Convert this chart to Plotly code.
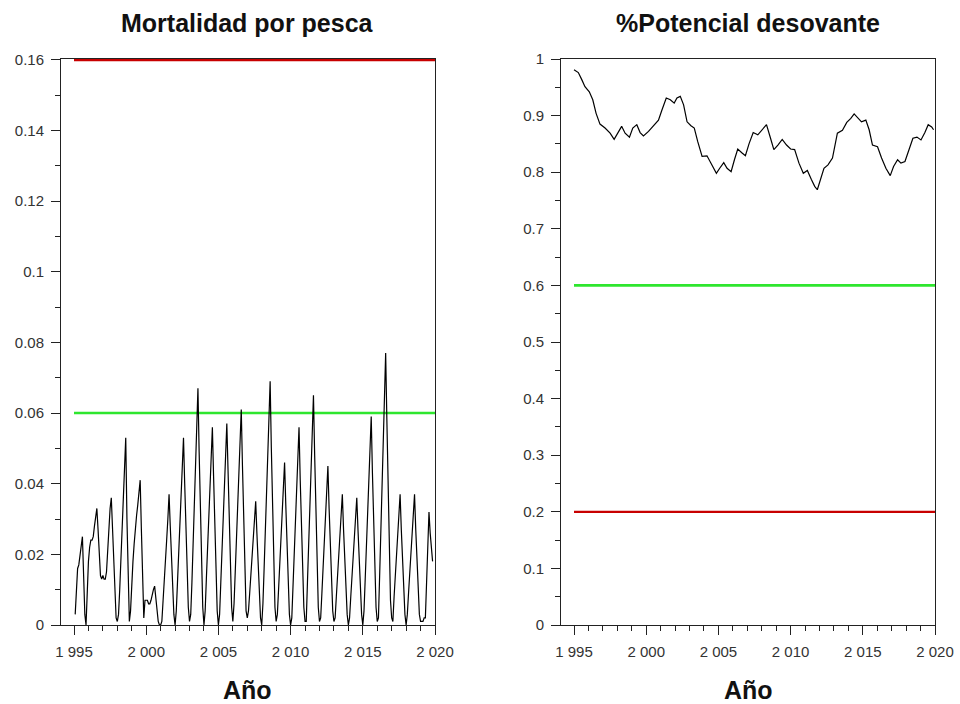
import plotly.graph_objects as go

# ---------------- data ----------------
# Fishing mortality, monthly values starting Feb 1995
f_start_year = 1995
f_start_month = 2
f_monthly = [
    # 1995 (Feb-Dec)
    0.003, 0.010, 0.016, 0.017, 0.020, 0.023, 0.025, 0.014, 0.003, 0.000, 0.013,
    # 1996
    0.018, 0.022, 0.024, 0.024, 0.025, 0.028, 0.030, 0.033, 0.027, 0.019, 0.014, 0.013,
    # 1997
    0.014, 0.013, 0.013, 0.015, 0.022, 0.029, 0.033, 0.036, 0.027, 0.016, 0.007, 0.002,
    # 1998
    0.001, 0.003, 0.010, 0.018, 0.028, 0.036, 0.044, 0.053, 0.030, 0.010, 0.001, 0.004,
    # 1999
    0.014, 0.018, 0.023, 0.028, 0.031, 0.034, 0.037, 0.041, 0.027, 0.013, 0.002, 0.007,
    # 2000
    0.007, 0.007, 0.006, 0.006, 0.007, 0.009, 0.010, 0.011, 0.007, 0.003, 0.001, 0.000,
    # 2001
    0.000, 0.001, 0.006, 0.012, 0.018, 0.024, 0.030, 0.037, 0.028, 0.018, 0.009, 0.003,
    # 2002
    0.000, 0.004, 0.012, 0.020, 0.029, 0.038, 0.046, 0.053, 0.040, 0.027, 0.014, 0.005,
    # 2003
    0.001, 0.003, 0.012, 0.023, 0.034, 0.045, 0.054, 0.067, 0.049, 0.031, 0.016, 0.005,
    # 2004
    0.000, 0.004, 0.013, 0.022, 0.031, 0.040, 0.048, 0.056, 0.042, 0.028, 0.014, 0.004,
    # 2005
    0.000, 0.003, 0.012, 0.021, 0.030, 0.039, 0.048, 0.057, 0.044, 0.030, 0.016, 0.005,
    # 2006
    0.001, 0.006, 0.015, 0.025, 0.034, 0.044, 0.053, 0.061, 0.045, 0.029, 0.014, 0.004,
    # 2007
    0.002, 0.004, 0.009, 0.014, 0.019, 0.024, 0.030, 0.035, 0.026, 0.017, 0.008, 0.002,
    # 2008
    0.000, 0.006, 0.016, 0.026, 0.037, 0.048, 0.058, 0.069, 0.050, 0.032, 0.016, 0.005,
    # 2009
    0.001, 0.003, 0.010, 0.017, 0.024, 0.032, 0.039, 0.046, 0.034, 0.022, 0.011, 0.003,
    # 2010
    0.000, 0.002, 0.011, 0.020, 0.029, 0.038, 0.047, 0.056, 0.041, 0.027, 0.014, 0.005,
    # 2011
    0.001, 0.001, 0.012, 0.023, 0.034, 0.045, 0.055, 0.065, 0.048, 0.031, 0.016, 0.005,
    # 2012
    0.001, 0.002, 0.009, 0.016, 0.023, 0.031, 0.038, 0.045, 0.033, 0.021, 0.011, 0.004,
    # 2013
    0.001, 0.002, 0.008, 0.014, 0.020, 0.025, 0.031, 0.037, 0.027, 0.018, 0.009, 0.003,
    # 2014
    0.000, 0.002, 0.008, 0.013, 0.019, 0.025, 0.030, 0.036, 0.027, 0.018, 0.010, 0.003,
    # 2015
    0.000, 0.004, 0.013, 0.022, 0.031, 0.040, 0.050, 0.059, 0.043, 0.029, 0.015, 0.005,
    # 2016
    0.001, 0.002, 0.014, 0.027, 0.040, 0.052, 0.065, 0.077, 0.058, 0.038, 0.020, 0.007,
    # 2017
    0.002, 0.001, 0.008, 0.014, 0.019, 0.025, 0.031, 0.037, 0.027, 0.018, 0.009, 0.003,
    # 2018
    0.000, 0.003, 0.009, 0.015, 0.020, 0.026, 0.031, 0.037, 0.027, 0.018, 0.009, 0.003,
    # 2019 (Jan-Nov)
    0.001, 0.001, 0.001, 0.002, 0.002, 0.012, 0.024, 0.032, 0.026, 0.022, 0.018,
]

# Spawning potential ratio
spr_years = [
    1995.0, 1995.3, 1995.53, 1995.76, 1996.06, 1996.3, 1996.53, 1996.8, 1997.15, 1997.5,
    1997.78, 1998.08, 1998.3, 1998.54, 1998.84, 1999.07, 1999.35, 1999.58, 1999.81, 2000.16,
    2000.5, 2000.85, 2001.09, 2001.39, 2001.67, 2001.94, 2002.13, 2002.36, 2002.59, 2002.83,
    2003.1, 2003.33, 2003.57, 2003.87, 2004.21, 2004.56, 2004.86, 2005.09, 2005.37, 2005.6,
    2005.88, 2006.11, 2006.34, 2006.64, 2006.87, 2007.12, 2007.41, 2007.73, 2008.03, 2008.33,
    2008.61, 2008.84, 2009.12, 2009.42, 2009.72, 2010.0, 2010.28, 2010.58, 2010.88, 2011.16,
    2011.44, 2011.67, 2011.85, 2012.08, 2012.31, 2012.59, 2012.9, 2013.24, 2013.59, 2013.89,
    2014.17, 2014.4, 2014.67, 2014.91, 2015.21, 2015.44, 2015.67, 2016.02, 2016.3, 2016.6,
    2016.9, 2017.13, 2017.41, 2017.64, 2017.92, 2018.15, 2018.47, 2018.75, 2019.03, 2019.3,
    2019.53, 2019.77, 2019.9,
]
spr_values = [
    0.981, 0.976, 0.964, 0.951, 0.942, 0.928, 0.904, 0.885, 0.878, 0.869,
    0.858, 0.872, 0.881, 0.869, 0.862, 0.878, 0.884, 0.870, 0.864, 0.872,
    0.882, 0.892, 0.910, 0.931, 0.928, 0.922, 0.931, 0.934, 0.919, 0.889,
    0.882, 0.878, 0.854, 0.828, 0.829, 0.813, 0.798, 0.807, 0.817, 0.807,
    0.801, 0.822, 0.841, 0.834, 0.829, 0.850, 0.870, 0.866, 0.875, 0.884,
    0.860, 0.840, 0.848, 0.858, 0.848, 0.841, 0.840, 0.816, 0.798, 0.803,
    0.787, 0.775, 0.769, 0.787, 0.807, 0.813, 0.825, 0.869, 0.874, 0.888,
    0.895, 0.903, 0.895, 0.889, 0.892, 0.875, 0.848, 0.845, 0.825, 0.807,
    0.794, 0.810, 0.822, 0.816, 0.819, 0.836, 0.860, 0.862, 0.857, 0.870,
    0.884, 0.880, 0.875,
]

# reference points
ref_years = [1995, 2020]
f_limit = 0.16
f_target = 0.06
spr_target = 0.6
spr_limit = 0.2

x_tickvals = [1995, 2000, 2005, 2010, 2015, 2020]
x_ticktext = ["1 995", "2 000", "2 005", "2 010", "2 015", "2 020"]
yl_tickvals = [0, 0.02, 0.04, 0.06, 0.08, 0.1, 0.12, 0.14, 0.16]
yl_ticktext = ["0", "0.02", "0.04", "0.06", "0.08", "0.1", "0.12", "0.14", "0.16"]
yr_tickvals = [0, 0.1, 0.2, 0.3, 0.4, 0.5, 0.6, 0.7, 0.8, 0.9, 1]
yr_ticktext = ["0", "0.1", "0.2", "0.3", "0.4", "0.5", "0.6", "0.7", "0.8", "0.9", "1"]

titles = ["Mortalidad por pesca", "%Potencial desovante"]
x_title = "Año"

# ---------------- figure ----------------
f_x = [f_start_year + (f_start_month - 1 + i) / 12 for i in range(len(f_monthly))]

RED = "#c80000"
GREEN = "#2ee62e"
FONT = "Liberation Sans, Arial, sans-serif"

fig = go.Figure()
fig.add_trace(go.Scatter(x=ref_years, y=[f_target] * 2, mode="lines",
                         line=dict(color=GREEN, width=2.6), xaxis="x", yaxis="y"))
fig.add_trace(go.Scatter(x=ref_years, y=[f_limit] * 2, mode="lines",
                         line=dict(color=RED, width=3), xaxis="x", yaxis="y"))
fig.add_trace(go.Scatter(x=f_x, y=f_monthly, mode="lines",
                         line=dict(color="black", width=1.2), xaxis="x", yaxis="y"))

fig.add_trace(go.Scatter(x=ref_years, y=[spr_target] * 2, mode="lines",
                         line=dict(color=GREEN, width=2.6), xaxis="x2", yaxis="y2"))
fig.add_trace(go.Scatter(x=ref_years, y=[spr_limit] * 2, mode="lines",
                         line=dict(color=RED, width=2.2), xaxis="x2", yaxis="y2"))
fig.add_trace(go.Scatter(x=spr_years, y=spr_values, mode="lines",
                         line=dict(color="black", width=1.2), xaxis="x2", yaxis="y2"))

tickfont = dict(family=FONT, size=15, color="#333333")
xcommon = dict(range=[1994.1, 2020.0], tickvals=x_tickvals, ticktext=x_ticktext,
               ticks="outside", ticklen=9, tickwidth=1, tickcolor="#222",
               showline=True, linecolor="#222", linewidth=1, mirror=True,
               showgrid=False, zeroline=False, tickfont=tickfont,
               ticklabelstandoff=4, automargin=False,
               minor=dict(ticks="outside", ticklen=5, tickwidth=1, tickcolor="#222",
                          dtick=1, tick0=1995, showgrid=False))
ycommon = dict(ticks="outside", ticklen=9, tickwidth=1, tickcolor="#222",
               showline=True, linecolor="#222", linewidth=1, mirror=True,
               showgrid=False, zeroline=False, tickfont=tickfont,
               ticklabelstandoff=4, automargin=False)

dom_y = [1 - 625 / 704, 1 - 59 / 704]
fig.update_layout(
    width=960, height=704,
    margin=dict(l=0, r=0, t=0, b=0, pad=0, autoexpand=False),
    paper_bgcolor="white", plot_bgcolor="white",
    showlegend=False,
    xaxis=dict(domain=[61 / 960, 435 / 960], anchor="y", **xcommon),
    yaxis=dict(domain=dom_y, anchor="x", range=[0, 0.1602],
               tickvals=yl_tickvals, ticktext=yl_ticktext,
               minor=dict(ticks="outside", ticklen=5, tickwidth=1, tickcolor="#222",
                          dtick=0.01, tick0=0, showgrid=False),
               **ycommon),
    xaxis2=dict(domain=[561 / 960, 935 / 960], anchor="y2", **xcommon),
    yaxis2=dict(domain=dom_y, anchor="x2", range=[0, 1.0],
                tickvals=yr_tickvals, ticktext=yr_ticktext,
                minor=dict(ticks="outside", ticklen=5, tickwidth=1, tickcolor="#222",
                           dtick=0.05, tick0=0, showgrid=False),
                **ycommon),
)

title_font = dict(family=FONT, size=25, color="#111111")
for xc, t in zip([247.5 / 960, 748 / 960], titles):
    fig.add_annotation(text="<b>" + t + "</b>", x=xc, y=1 - 23 / 704, xref="paper", yref="paper",
                       xanchor="center", yanchor="middle", showarrow=False, font=title_font)
    fig.add_annotation(text="<b>" + x_title + "</b>", x=xc, y=1 - 690 / 704, xref="paper",
                       yref="paper", xanchor="center", yanchor="middle", showarrow=False,
                       font=dict(family=FONT, size=25, color="#111111"))

fig.write_html("out.html", config={"displayModeBar": False},
               post_script="document.body.style.margin='0px';document.body.style.overflow='hidden';")
